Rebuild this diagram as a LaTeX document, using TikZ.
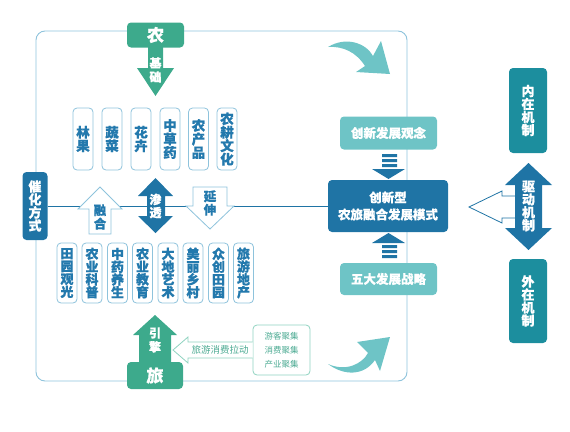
\documentclass[tikz,border=0pt]{standalone}
\usepackage{fontspec}
\setmainfont{Noto Sans CJK SC}[BoldFeatures={FakeBold=0.6}]
\definecolor{frameblue}{HTML}{8EC3DC}
\definecolor{darkblue}{HTML}{1F74A5}
\definecolor{txtblue}{HTML}{2379AD}
\definecolor{nongreen}{HTML}{3DAA8C}
\definecolor{tealbox}{HTML}{6EC4C6}
\definecolor{mechteal}{HTML}{1C8E9E}
\definecolor{lightgreen}{HTML}{8FD3C0}
\definecolor{txtgreen}{HTML}{4BAA92}
\begin{document}
\begin{tikzpicture}[x=1pt,y=-1pt,
  smallbox/.style={draw=frameblue,line width=0.8pt,rounded corners=4pt,fill=white,
    minimum width=20pt,inner sep=0pt,text=txtblue,align=center,
    font=\fontsize{13.5}{13.5}\selectfont\bfseries},
  solidbox/.style={rounded corners=4pt,inner sep=0pt,text=white,align=center},
  outarrow/.style={draw=frameblue,line width=0.8pt,fill=white},
]
\useasboundingbox (0,0) rectangle (570,431);
% main frame
\draw[frameblue,line width=0.9pt,rounded corners=9pt] (36,31) rectangle (407,381);

% horizontal line
\node[solidbox,fill=darkblue,minimum width=25pt,minimum height=68pt,
  font=\fontsize{13}{13}\selectfont\bfseries] (cat) at (35,206) {催\\化\\方\\式};
\node[solidbox,fill=darkblue,minimum width=120pt,minimum height=52pt,
  font=\fontsize{12.5}{17}\selectfont\bfseries] (mode) at (388,206) {创新型\\农旅融合发展模式};
\draw[darkblue,line width=0.9pt] (cat.east) -- (mode.west);

% Nong top
\node[solidbox,fill=nongreen,minimum width=57pt,minimum height=25pt,
  font=\fontsize{17}{17}\selectfont\bfseries] (nong) at (155.5,35) {农};
\fill[nongreen] (148,47) -- (163,47) -- (163,68) -- (174,68) -- (155.5,96) -- (137,68) -- (148,68) -- cycle;
\node[text=white,align=center,font=\fontsize{12}{14}\selectfont\bfseries] (jichu) at (155.5,70) {基\\础};

% top row
\foreach \x/\t [count=\i] in {83/林\\果,112/蔬\\菜,141/花\\卉,170/中\\草\\药,198.5/农\\产\\品,227/农\\耕\\文\\化}
  \node[smallbox,minimum height=62pt] (top\i) at (\x,139) {\t};

% fusion arrow
\draw[outarrow] (100,187) -- (122,209) -- (111,209) -- (111,234) -- (89,234) -- (89,209) -- (78,209) -- cycle;
\node[text=txtblue,align=center,font=\fontsize{12.5}{13.5}\selectfont\bfseries] (rh) at (100,217) {融\\合};
% penetrate double arrow
\fill[darkblue] (155.5,178) -- (173,196) -- (165,196) -- (165,216) -- (173,216) -- (155.5,233) -- (138,216) -- (147,216) -- (147,196) -- (138,196) -- cycle;
\node[text=white,align=center,font=\fontsize{12}{13}\selectfont\bfseries] (st) at (155.5,206) {渗\\透};
% extend arrow
\draw[outarrow] (193,187) -- (227,187) -- (227,206) -- (234,206) -- (210,229) -- (186,206) -- (193,206) -- cycle;
\node[text=txtblue,align=center,font=\fontsize{12.5}{13.5}\selectfont\bfseries] (ys) at (210,203) {延\\伸};

% bottom row
\foreach \x/\t [count=\i] in {67/田\\园\\观\\光,92/农\\业\\科\\普,117.5/中\\药\\养\\生,142.5/农\\业\\教\\育,168/大\\地\\艺\\术,193/美\\丽\\乡\\村,218.5/众\\创\\田\\园,243.5/旅\\游\\地\\产}
  \node[smallbox,minimum height=60pt,font=\fontsize{13}{12.8}\selectfont\bfseries] (bot\i) at (\x,273) {\t};

% Lv bottom
\fill[nongreen] (155,315) -- (177,335) -- (171,335) -- (171,364) -- (139,364) -- (139,335) -- (133,335) -- cycle;
\node[solidbox,fill=nongreen,minimum width=56pt,minimum height=27pt,
  font=\fontsize{17}{17}\selectfont\bfseries] (lv) at (155,375.5) {旅};
\node[text=white,align=center,font=\fontsize{12}{14}\selectfont\bfseries] (yq) at (155,340) {引\\擎};

% tourism pull arrow
\node[draw=lightgreen,line width=0.8pt,rounded corners=4pt,minimum width=57pt,minimum height=50pt,
  inner sep=0pt,align=center,text=txtgreen,font=\fontsize{8.5}{14}\selectfont] (cluster) at (281.5,350) {游客聚集\\消费聚集\\产业聚集};
\draw[draw=lightgreen,line width=0.8pt,fill=white] (cluster.west |- 0,342) -- (188,342) -- (188,337) -- (173,350) -- (188,363) -- (188,358) -- (cluster.west |- 0,358);
\node[text=txtgreen,font=\fontsize{9.5}{9.5}\selectfont] (pull) at (220,350) {旅游消费拉动};

% curved arrows
\fill[tealbox] (328,47) .. controls (346,36) and (366,43) .. (373,56) -- (381,41) -- (390,74) -- (356,72) -- (365,66) .. controls (356,52) and (343,46) .. (328,47) -- cycle;
\fill[tealbox] (328,364) .. controls (346,372) and (362,364) .. (368,353) -- (357,342) -- (390,337) -- (380,371) -- (375,360) .. controls (364,376) and (344,376) .. (328,364) -- cycle;

% right column boxes
\node[solidbox,fill=tealbox,minimum width=97pt,minimum height=33pt,
  font=\fontsize{12.5}{12.5}\selectfont\bfseries] (idea) at (388.5,133) {创新发展观念};
\node[solidbox,fill=tealbox,minimum width=97pt,minimum height=32pt,
  font=\fontsize{12.5}{12.5}\selectfont\bfseries] (five) at (388.5,279) {五大发展战略};
% stripe arrows
\fill[darkblue] (382,154) rectangle (397,157) (382,159) rectangle (397,162) (382,164) rectangle (397,167);
\fill[darkblue] (372,169) -- (405,169) -- (388.5,179) -- cycle;
\fill[darkblue] (372,243) -- (405,243) -- (388.5,233) -- cycle;
\fill[darkblue] (382,245) rectangle (397,248) (382,250) rectangle (397,253) (382,255) rectangle (397,258);

% mechanisms
\node[solidbox,fill=mechteal,minimum width=38pt,minimum height=85pt,
  font=\fontsize{13}{13}\selectfont\bfseries] (inner) at (528,110.5) {内\\在\\机\\制};
\node[solidbox,fill=mechteal,minimum width=38pt,minimum height=84pt,
  font=\fontsize{13}{13}\selectfont\bfseries] (outer) at (528,301) {外\\在\\机\\制};
\draw[draw=darkblue,line width=0.8pt,fill=white] (520,196) -- (502,196) -- (502,191) -- (469,207) -- (502,223) -- (502,218) -- (520,218);
\fill[darkblue] (528.5,163) -- (552,185) -- (542,185) -- (542,228) -- (552,228) -- (528.5,250) -- (505,228) -- (515,228) -- (515,185) -- (505,185) -- cycle;
\node[text=white,align=center,font=\fontsize{13}{13}\selectfont\bfseries] (drive) at (528.5,206) {驱\\动\\机\\制};
\end{tikzpicture}
\end{document}
